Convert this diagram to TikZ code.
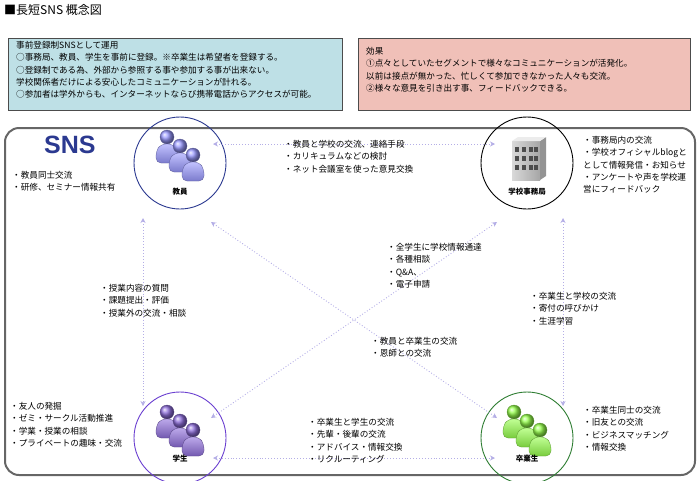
\documentclass[tikz,border=0pt]{standalone}
\usepackage{fontspec}
\setmainfont{Noto Sans CJK JP}
\setsansfont{Liberation Sans}
\usetikzlibrary{arrows.meta}
\definecolor{bluebox}{HTML}{BEE0E6}
\definecolor{pinkbox}{HTML}{F0C0B8}
\definecolor{arr}{HTML}{B4AEE6}
\definecolor{navy}{HTML}{2B3990}
\definecolor{purp}{HTML}{6A3FD0}
\definecolor{grn}{HTML}{2E7D32}
\newcommand\myperson[3]{%
  \shade[ball color=#3,draw=#3!60!black,line width=0.3pt] (#1,#2) circle (7);
  \shade[top color=#3!60!white,bottom color=#3!80!black,draw=#3!60!black,line width=0.3pt, rounded corners=5] (#1-11,#2+26) -- (#1-11,#2+14) -- (#1-6,#2+7) -- (#1+6,#2+7) -- (#1+11,#2+14) -- (#1+11,#2+26) -- cycle;}
\newcommand\mygroup[3]{%
  \myperson{#1-13}{#2-16}{#3}\myperson{#1}{#2-7}{#3}\myperson{#1+13}{#2+2}{#3}}
\begin{document}
\begin{tikzpicture}[x=1pt,y=-1pt,
  txt/.style={anchor=north west,inner sep=0,align=left,font=\fontsize{8.6}{12.3}\selectfont},
  actor/.style={circle,draw,line width=0.9pt,minimum size=92},
  link/.style={arr,line width=0.9pt,dotted,{Stealth[length=5,width=5]}-{Stealth[length=5,width=5]}},
  lab/.style={inner sep=0,font=\fontsize{7.5}{9}\selectfont\bfseries}]
\useasboundingbox (0,0) rectangle (700,480);
\node[anchor=north west,inner sep=0,font=\fontsize{12}{14}\selectfont] (title) at (4,4) {■長短SNS 概念図};
\node[draw=black!70,fill=bluebox,minimum width=334,minimum height=72,anchor=north west,line width=0.6pt] (bb) at (8,38) {};
\node[txt] (bt) at (16,41) {事前登録制SNSとして運用\\○事務局、教員、学生を事前に登録。※卒業生は希望者を登録する。\\○登録制である為、外部から参照する事や参加する事が出来ない。\\学校関係者だけによる安心したコミュニケーションが計れる。\\○参加者は学外からも、インターネットならび携帯電話からアクセスが可能。};
\node[draw=black!70,fill=pinkbox,minimum width=332,minimum height=72,anchor=north west,line width=0.6pt] (pb) at (358,38) {};
\node[txt] (pt) at (366,47) {効果\\①点々としていたセグメントで様々なコミュニケーションが活発化。\\以前は接点が無かった、忙しくて参加できなかった人々も交流。\\②様々な意見を引き出す事、フィードバックできる。};
\draw[black!60,line width=2pt,rounded corners=14] (5,128) rectangle (695,475);
\node[anchor=north west,inner sep=0,font=\fontsize{25}{27}\selectfont\bfseries\sffamily,text=navy] (sns) at (44,136) {SNS};
% actors
\node[actor,draw=navy] (t) at (180,163) {};
\node[actor,draw=black] (o) at (527,163) {};
\node[actor,draw=purp] (s) at (180,438) {};
\node[actor,draw=grn] (g) at (527,438) {};
\mygroup{180}{153}{blue!40!white}
\mygroup{180}{428}{purp!75!white}
\mygroup{527}{428}{green!45!lime!70!white}
% building
\shade[left color=gray!30,right color=gray!70] (512,141) rectangle (540,180);
\fill[gray!85] (540,141) -- (546,137) -- (546,176) -- (540,180) -- cycle;
\fill[gray!15] (512,141) -- (518,137) -- (546,137) -- (540,141) -- cycle;
\foreach \yy in {147,156,165} \foreach \xx in {515,522,529,534} \fill[black!70] (\xx,\yy) rectangle (\xx+4,\yy+5);
\node[lab] (tl) at (180,192) {教員};
\node[lab] (ol) at (527,192) {学校事務局};
\node[lab] (sl) at (180,459) {学生};
\node[lab] (gl) at (527,459) {卒業生};
% links
\draw[link] (213,144) -- (495,144);
\draw[link] (213,458) -- (495,458);
\draw[link] (143,218) -- (143,406);
\draw[link] (563,218) -- (563,406);
\draw[link] (211,222) -- (497,418);
\draw[link] (497,222) -- (211,418);
% texts
\node[txt] at (284,140) {・教員と学校の交流、連絡手段\\・カリキュラムなどの検討\\・ネット会議室を使った意見交換};
\node[txt] at (12,171) {・教員同士交流\\・研修、セミナー情報共有};
\node[txt] at (583,136) {・事務局内の交流\\・学校オフィシャルblogと\\として情報発信・お知らせ\\・アンケートや声を学校運\\営にフィードバック};
\node[txt] at (387,243) {・全学生に学校情報通達\\・各種相談\\・Q\&A、\\・電子申請};
\node[txt] at (100,284) {・授業内容の質問\\・課題提出・評価\\・授業外の交流・相談};
\node[txt] at (530,292) {・卒業生と学校の交流\\・寄付の呼びかけ\\・生涯学習};
\node[txt] at (371,337) {・教員と卒業生の交流\\・恩師との交流};
\node[txt] at (10,402) {・友人の発掘\\・ゼミ・サークル活動推進\\・学業・授業の相談\\・プライベートの趣味・交流};
\node[txt] at (308,418) {・卒業生と学生の交流\\・先輩・後輩の交流\\・アドバイス・情報交換\\・リクルーティング};
\node[txt] at (583,406) {・卒業生同士の交流\\・旧友との交流\\・ビジネスマッチング\\・情報交換};
\end{tikzpicture}
\end{document}
